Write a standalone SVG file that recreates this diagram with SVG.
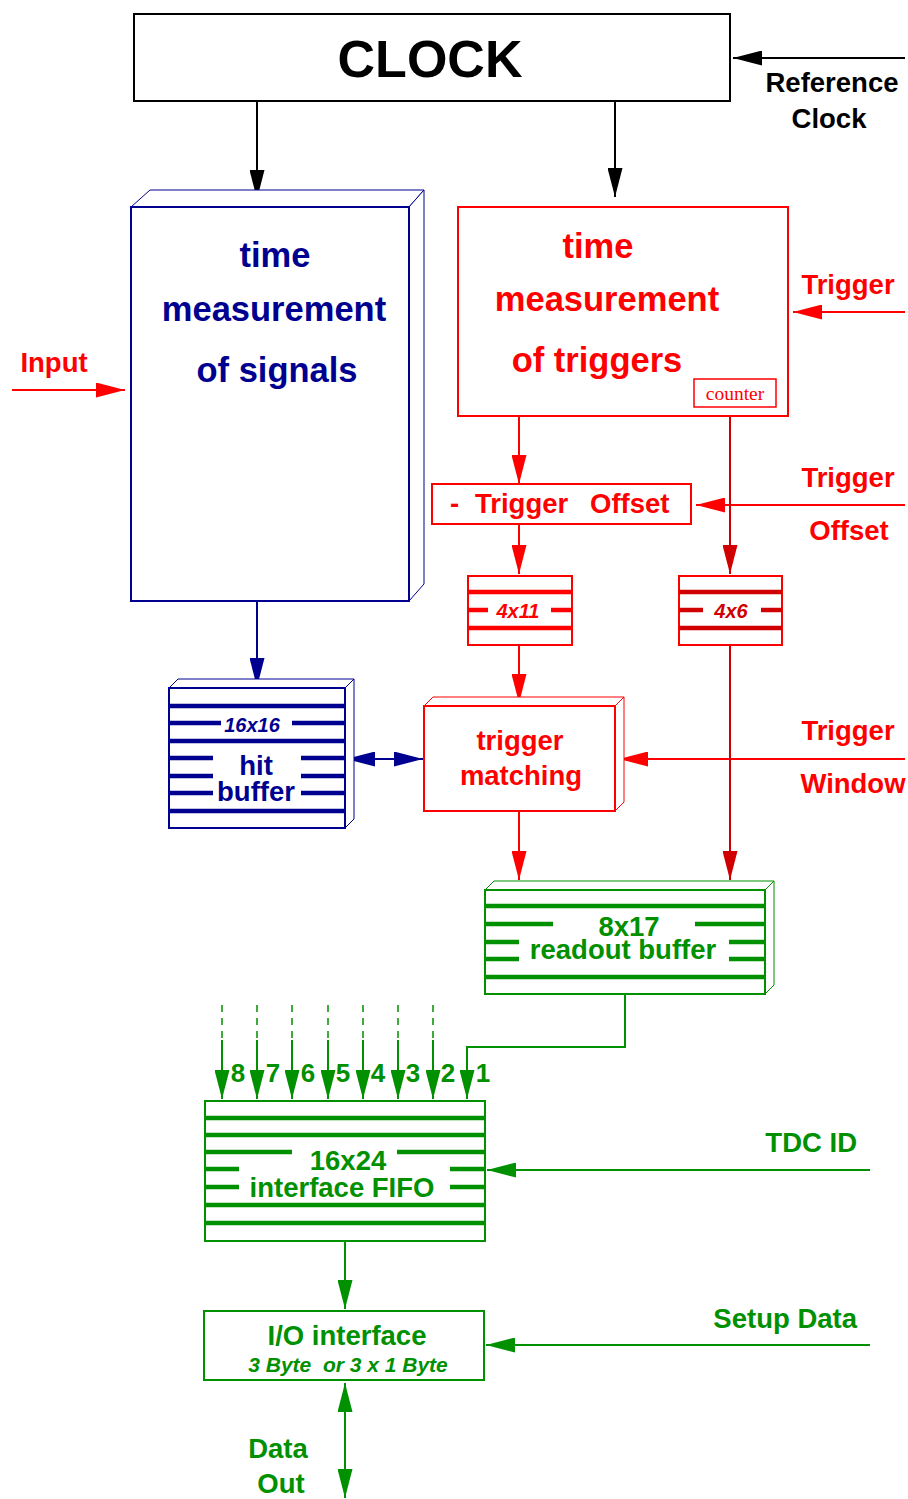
<svg xmlns="http://www.w3.org/2000/svg" width="908" height="1499" viewBox="0 0 908 1499">
<style>
text{font-family:"Liberation Sans",Arial,sans-serif;font-weight:bold;text-anchor:middle;white-space:pre}
.t27{font-size:27.5px}
.t34{font-size:34.5px}
.it{font-size:20px;font-style:italic}
.blk{fill:#000}
.nv{fill:#000090}
.rd{fill:#ff0000}
.dr{fill:#d00000}
.gr{fill:#009000}
.box{fill:#fff;stroke-width:2}
.side{fill:#fff;stroke-width:1}
.bar{stroke-width:4.5;fill:none}
.c{fill:none;stroke-width:2}
</style>
<defs>
<marker id="aK" markerUnits="userSpaceOnUse" markerWidth="30" markerHeight="15" refX="29" refY="7.5" orient="auto-start-reverse"><path d="M0,0 L29,7.5 L0,15 z" fill="#000"/></marker>
<marker id="aN" markerUnits="userSpaceOnUse" markerWidth="30" markerHeight="15" refX="29" refY="7.5" orient="auto-start-reverse"><path d="M0,0 L29,7.5 L0,15 z" fill="#000090"/></marker>
<marker id="aR" markerUnits="userSpaceOnUse" markerWidth="30" markerHeight="15" refX="29" refY="7.5" orient="auto-start-reverse"><path d="M0,0 L29,7.5 L0,15 z" fill="#ff0000"/></marker>
<marker id="aD" markerUnits="userSpaceOnUse" markerWidth="30" markerHeight="15" refX="29" refY="7.5" orient="auto-start-reverse"><path d="M0,0 L29,7.5 L0,15 z" fill="#d00000"/></marker>
<marker id="aG" markerUnits="userSpaceOnUse" markerWidth="30" markerHeight="15" refX="29" refY="7.5" orient="auto-start-reverse"><path d="M0,0 L29,7.5 L0,15 z" fill="#009000"/></marker>
</defs>
<rect width="908" height="1499" fill="#fff"/>

<g id="connectors">
<g stroke="#000" class="c">
<line x1="257" y1="101" x2="257" y2="199" marker-end="url(#aK)"/>
<line x1="615" y1="101" x2="615" y2="197" marker-end="url(#aK)"/>
<line x1="905" y1="58" x2="733" y2="58" marker-end="url(#aK)"/>
</g>
<g stroke="#ff0000" class="c">
<line x1="12" y1="390" x2="125" y2="390" marker-end="url(#aR)"/>
<line x1="905" y1="312" x2="793" y2="312" marker-end="url(#aR)"/>
<line x1="519" y1="416" x2="519" y2="484" marker-end="url(#aR)"/>
<line x1="905" y1="505" x2="696" y2="505" marker-end="url(#aR)"/>
<line x1="519" y1="524" x2="519" y2="574" marker-end="url(#aR)"/>
<line x1="519" y1="645" x2="519" y2="703" marker-end="url(#aR)"/>
<line x1="905" y1="759" x2="619" y2="759" marker-end="url(#aR)"/>
<line x1="519" y1="811" x2="519" y2="880" marker-end="url(#aR)"/>
</g>
<g stroke="#d00000" class="c">
<line x1="730" y1="407" x2="730" y2="574" marker-end="url(#aD)"/>
<line x1="730" y1="645" x2="730" y2="880" marker-end="url(#aD)"/>
</g>
<g stroke="#000090" class="c">
<line x1="257" y1="601" x2="257" y2="687" marker-end="url(#aN)"/>
<line x1="346" y1="759" x2="423" y2="759" marker-start="url(#aN)" marker-end="url(#aN)"/>
</g>
<g stroke="#009000" class="c">
<polyline points="625,994 625,1047 467,1047 467,1099" marker-end="url(#aG)"/>
<g stroke-dasharray="7,6" stroke-width="1.5">
<line x1="222" y1="1005" x2="222" y2="1040"/>
<line x1="257" y1="1005" x2="257" y2="1040"/>
<line x1="292" y1="1005" x2="292" y2="1040"/>
<line x1="328" y1="1005" x2="328" y2="1040"/>
<line x1="363" y1="1005" x2="363" y2="1040"/>
<line x1="398" y1="1005" x2="398" y2="1040"/>
<line x1="433" y1="1005" x2="433" y2="1040"/>
</g>
<line x1="222" y1="1040" x2="222" y2="1099" marker-end="url(#aG)"/>
<line x1="257" y1="1040" x2="257" y2="1099" marker-end="url(#aG)"/>
<line x1="292" y1="1040" x2="292" y2="1099" marker-end="url(#aG)"/>
<line x1="328" y1="1040" x2="328" y2="1099" marker-end="url(#aG)"/>
<line x1="363" y1="1040" x2="363" y2="1099" marker-end="url(#aG)"/>
<line x1="398" y1="1040" x2="398" y2="1099" marker-end="url(#aG)"/>
<line x1="433" y1="1040" x2="433" y2="1099" marker-end="url(#aG)"/>
<line x1="870" y1="1170" x2="487" y2="1170" marker-end="url(#aG)"/>
<line x1="345" y1="1241" x2="345" y2="1309" marker-end="url(#aG)"/>
<line x1="870" y1="1345" x2="486" y2="1345" marker-end="url(#aG)"/>
<line x1="345" y1="1383" x2="345" y2="1498" marker-start="url(#aG)" marker-end="url(#aG)"/>
</g>
</g>

<g id="clock">
<rect x="134" y="14" width="596" height="87" class="box" stroke="#000"/>
<text x="430" y="77" class="blk" style="font-size:52px">CLOCK</text>
</g>
<g id="ref-clock-label">
<text x="832" y="92" class="t27 blk">Reference</text>
<text x="829" y="128" class="t27 blk">Clock</text>
</g>

<g id="time-signals">
<polygon points="131,207 150,190 424,190 409,207" class="side" stroke="#000090"/>
<polygon points="409,207 424,190 424,584 409,601" class="side" stroke="#000090"/>
<rect x="131" y="207" width="278" height="394" class="box" stroke="#000090"/>
<text x="275" y="267" class="t34 nv">time</text>
<text x="274" y="321" class="t34 nv">measurement</text>
<text x="277" y="382" class="t34 nv">of signals</text>
</g>
<g id="input-label"><text x="54" y="372" class="t27 rd">Input</text></g>

<g id="time-triggers">
<rect x="458" y="207" width="330" height="209" class="box" stroke="#ff0000"/>
<text x="598" y="258" class="t34 rd">time</text>
<text x="607" y="311" class="t34 rd">measurement</text>
<text x="597" y="372" class="t34 rd">of triggers</text>
<rect x="694" y="379" width="82" height="28" fill="#fff" stroke="#ff0000" stroke-width="1.5"/>
<text x="735" y="400" style="font-family:'Liberation Serif','Times New Roman',serif;font-weight:normal;font-size:19.5px" class="rd">counter</text>
</g>
<g id="trigger-label"><text x="848" y="294" class="t27 rd">Trigger</text></g>

<g id="trigger-offset">
<rect x="432" y="484" width="259" height="40" class="box" stroke="#ff0000"/>
<text y="513" class="t27 rd" style="text-anchor:start"><tspan x="450">-</tspan><tspan x="475">Trigger</tspan><tspan x="590">Offset</tspan></text>
</g>
<g id="trigger-offset-label">
<text x="848" y="487" class="t27 rd">Trigger</text>
<text x="849" y="540" class="t27 rd">Offset</text>
</g>

<g id="buf-4x11">
<rect x="468" y="576" width="104" height="69" class="box" stroke="#ff0000"/>
<g stroke="#ff0000" class="bar">
<line x1="468" y1="592" x2="572" y2="592"/>
<line x1="468" y1="610" x2="488" y2="610"/>
<line x1="551" y1="610" x2="572" y2="610"/>
<line x1="468" y1="628" x2="572" y2="628"/>
</g>
<text x="518" y="618" class="it rd">4x11</text>
</g>

<g id="buf-4x6">
<rect x="679" y="576" width="103" height="69" class="box" stroke="#ff0000"/>
<g stroke="#d00000" class="bar">
<line x1="679" y1="592" x2="782" y2="592"/>
<line x1="679" y1="610" x2="703" y2="610"/>
<line x1="761" y1="610" x2="782" y2="610"/>
<line x1="679" y1="628" x2="782" y2="628"/>
</g>
<text x="731" y="618" class="it dr">4x6</text>
</g>

<g id="hit-buffer">
<polygon points="169,688 178,679 354,679 345,688" class="side" stroke="#000090"/>
<polygon points="345,688 354,679 354,819 345,828" class="side" stroke="#000090"/>
<rect x="169" y="688" width="176" height="140" class="box" stroke="#000090"/>
<g stroke="#000090" class="bar">
<line x1="169" y1="706" x2="345" y2="706"/>
<line x1="169" y1="723" x2="221" y2="723"/>
<line x1="292" y1="723" x2="345" y2="723"/>
<line x1="169" y1="741" x2="345" y2="741"/>
<line x1="169" y1="758" x2="213" y2="758"/>
<line x1="301" y1="758" x2="345" y2="758"/>
<line x1="169" y1="776" x2="213" y2="776"/>
<line x1="301" y1="776" x2="345" y2="776"/>
<line x1="169" y1="793" x2="213" y2="793"/>
<line x1="301" y1="793" x2="345" y2="793"/>
<line x1="169" y1="811" x2="345" y2="811"/>
</g>
<text x="252" y="732" class="it nv">16x16</text>
<text x="256" y="775" class="t27 nv">hit</text>
<text x="256" y="801" class="t27 nv">buffer</text>
</g>

<g id="trigger-matching">
<polygon points="424,706 433,697 624,697 615,706" class="side" stroke="#ff0000"/>
<polygon points="615,706 624,697 624,802 615,811" class="side" stroke="#ff0000"/>
<rect x="424" y="706" width="191" height="105" class="box" stroke="#ff0000"/>
<text x="520" y="750" class="t27 rd">trigger</text>
<text x="521" y="785" class="t27 rd">matching</text>
</g>
<g id="trigger-window-label">
<text x="848" y="740" class="t27 rd">Trigger</text>
<text x="853" y="793" class="t27 rd">Window</text>
</g>

<g id="readout-buffer">
<polygon points="485,890 494,881 774,881 765,890" class="side" stroke="#009000"/>
<polygon points="765,890 774,881 774,985 765,994" class="side" stroke="#009000"/>
<rect x="485" y="890" width="280" height="104" class="box" stroke="#009000"/>
<g stroke="#009000" class="bar">
<line x1="485" y1="906" x2="765" y2="906"/>
<line x1="485" y1="924" x2="553" y2="924"/>
<line x1="695" y1="924" x2="765" y2="924"/>
<line x1="485" y1="942" x2="519" y2="942"/>
<line x1="729" y1="942" x2="765" y2="942"/>
<line x1="485" y1="959" x2="519" y2="959"/>
<line x1="729" y1="959" x2="765" y2="959"/>
<line x1="485" y1="977" x2="765" y2="977"/>
</g>
<text x="629" y="936" class="t27 gr">8x17</text>
<text x="623" y="959" class="t27 gr">readout buffer</text>
</g>

<g id="port-labels">
<text x="238" y="1082" class="gr" style="font-size:26px">8</text>
<text x="273" y="1082" class="gr" style="font-size:26px">7</text>
<text x="308" y="1082" class="gr" style="font-size:26px">6</text>
<text x="343" y="1082" class="gr" style="font-size:26px">5</text>
<text x="378" y="1082" class="gr" style="font-size:26px">4</text>
<text x="413" y="1082" class="gr" style="font-size:26px">3</text>
<text x="448" y="1082" class="gr" style="font-size:26px">2</text>
<text x="483" y="1082" class="gr" style="font-size:26px">1</text>
</g>

<g id="interface-fifo">
<rect x="205" y="1101" width="280" height="140" class="box" stroke="#009000"/>
<g stroke="#009000" class="bar">
<line x1="205" y1="1118" x2="485" y2="1118"/>
<line x1="205" y1="1135" x2="485" y2="1135"/>
<line x1="205" y1="1152" x2="292" y2="1152"/>
<line x1="397" y1="1152" x2="485" y2="1152"/>
<line x1="205" y1="1169" x2="239" y2="1169"/>
<line x1="450" y1="1169" x2="485" y2="1169"/>
<line x1="205" y1="1187" x2="239" y2="1187"/>
<line x1="450" y1="1187" x2="485" y2="1187"/>
<line x1="205" y1="1205" x2="485" y2="1205"/>
<line x1="205" y1="1223" x2="485" y2="1223"/>
</g>
<text x="348" y="1170" class="t27 gr">16x24</text>
<text x="342" y="1197" class="t27 gr">interface FIFO</text>
</g>
<g id="tdc-id-label"><text x="857" y="1152" class="t27 gr" style="text-anchor:end">TDC ID</text></g>

<g id="io-interface">
<rect x="204" y="1311" width="280" height="69" class="box" stroke="#009000"/>
<text x="347" y="1345" class="t27 gr">I/O interface</text>
<text x="348" y="1372" class="gr" style="font-size:21px;font-style:italic">3 Byte  or 3 x 1 Byte</text>
</g>
<g id="setup-data-label"><text x="857" y="1328" class="t27 gr" style="text-anchor:end">Setup Data</text></g>
<g id="data-out-label">
<text x="278" y="1458" class="t27 gr">Data</text>
<text x="281" y="1493" class="t27 gr">Out</text>
</g>
</svg>
